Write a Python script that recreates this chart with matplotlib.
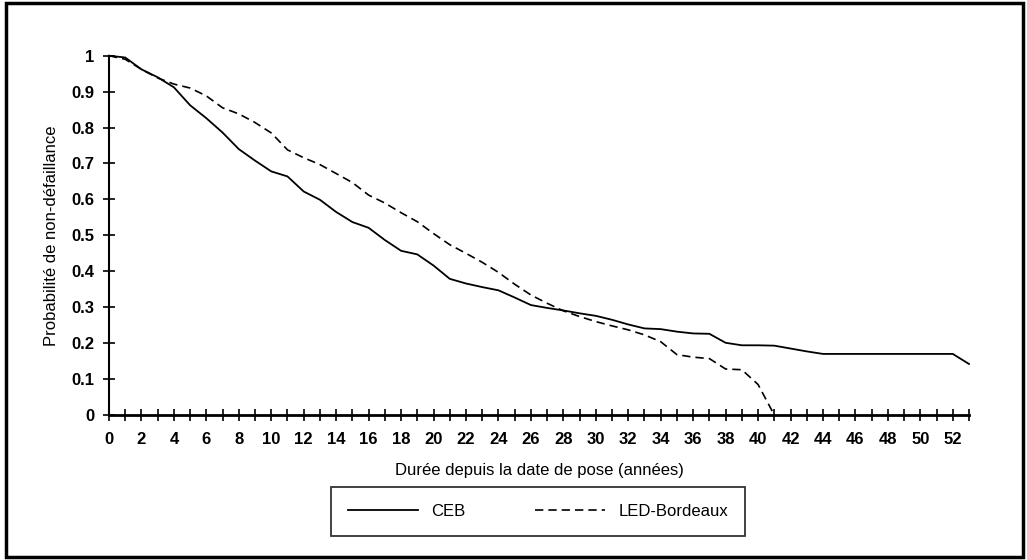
import matplotlib
matplotlib.use("Agg")
import matplotlib.pyplot as plt
from matplotlib.patches import Rectangle
from matplotlib.ticker import MultipleLocator, FuncFormatter

plt.rcParams['font.family'] = ['Liberation Sans', 'DejaVu Sans']

years = list(range(0, 54))
ceb = [1.0, 0.995, 0.962, 0.94, 0.912, 0.862, 0.826, 0.786, 0.74, 0.708,
       0.678, 0.664, 0.622, 0.599, 0.565, 0.537, 0.521, 0.487, 0.457, 0.447,
       0.416, 0.379, 0.366, 0.356, 0.347, 0.327, 0.306, 0.298, 0.291, 0.283,
       0.276, 0.265, 0.252, 0.241, 0.239, 0.232, 0.227, 0.226, 0.201, 0.194,
       0.194, 0.193, 0.185, 0.177, 0.17, 0.17, 0.17, 0.17, 0.17, 0.17,
       0.17, 0.17, 0.17, 0.142]
led_years = list(range(0, 42))
led = [1.0, 0.99, 0.962, 0.938, 0.921, 0.91, 0.888, 0.855, 0.838, 0.814,
       0.785, 0.738, 0.716, 0.697, 0.672, 0.647, 0.612, 0.59, 0.563, 0.538,
       0.505, 0.474, 0.45, 0.425, 0.397, 0.364, 0.334, 0.311, 0.29, 0.274,
       0.26, 0.248, 0.237, 0.223, 0.204, 0.168, 0.161, 0.157, 0.128, 0.126,
       0.085, 0.0]
series_names = ["CEB", "LED-Bordeaux"]
x_label = "Durée depuis la date de pose (années)"
y_label = "Probabilité de non-défaillance"

W, H = 1027, 560
fig = plt.figure(figsize=(W / 100, H / 100), dpi=100)
ax = fig.add_axes([109 / W, 1 - 415 / H, (969 - 109) / W, (415 - 55.7) / H])

l1, = ax.plot(years, ceb, color='black', lw=1.3, clip_on=False, label=series_names[0])
l2, = ax.plot(led_years, led, color='black', lw=1.2, ls=(0, (5, 3)), clip_on=False,
              label=series_names[1])

ax.set_xlim(0, 53)
ax.set_ylim(0, 1)
for s in ['top', 'right']:
    ax.spines[s].set_visible(False)
ax.spines['bottom'].set_linewidth(2.0)
ax.spines['left'].set_linewidth(1.5)

ax.xaxis.set_major_locator(MultipleLocator(2))
ax.xaxis.set_minor_locator(MultipleLocator(1))
ax.yaxis.set_major_locator(MultipleLocator(0.1))
ax.yaxis.set_major_formatter(FuncFormatter(lambda v, p: ('%g' % round(v, 1))))
ax.tick_params(axis='x', which='both', direction='inout', length=8, width=1.2,
               labelsize=12, pad=8)
ax.tick_params(axis='y', which='major', direction='inout', length=9, width=1.2,
               labelsize=12, pad=6)
for lab in ax.get_xticklabels() + ax.get_yticklabels():
    lab.set_fontweight('bold')

ax.set_xlabel(x_label, fontsize=12, labelpad=12)
ax.set_ylabel(y_label, fontsize=12, labelpad=9)

leg = fig.legend([l1, l2], series_names, ncol=2, mode='expand',
                 bbox_to_anchor=(331 / W, 1 - 536 / H, 414 / W, 49 / H),
                 loc='center', frameon=True, fancybox=False, edgecolor='black',
                 fontsize=12, handlelength=4.2, borderaxespad=0, borderpad=1.0,
                 columnspacing=3)
leg.get_frame().set_linewidth(1.3)

fig.patches.append(Rectangle((6 / W, 3 / H), 1017 / W, 554 / H, transform=fig.transFigure,
                             fill=False, edgecolor='black', lw=2.5))

fig.savefig("out.png", dpi=100)
